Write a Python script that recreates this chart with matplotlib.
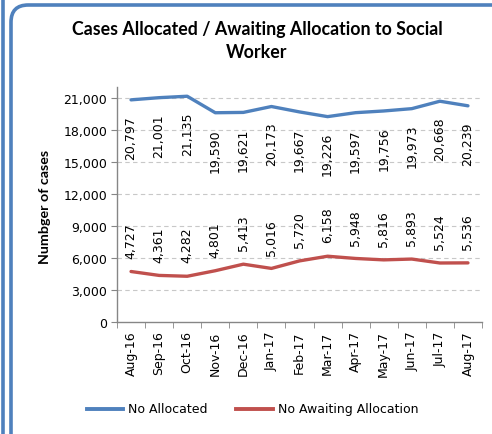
import matplotlib
matplotlib.use("Agg")
import matplotlib.pyplot as plt
from matplotlib.patches import FancyBboxPatch
from matplotlib.lines import Line2D

months = ["Aug-16", "Sep-16", "Oct-16", "Nov-16", "Dec-16", "Jan-17", "Feb-17",
          "Mar-17", "Apr-17", "May-17", "Jun-17", "Jul-17", "Aug-17"]
allocated = [20797, 21001, 21135, 19590, 19621, 20173, 19667, 19226, 19597,
             19756, 19973, 20668, 20239]
awaiting = [4727, 4361, 4282, 4801, 5413, 5016, 5720, 6158, 5948, 5816, 5893,
            5524, 5536]
yticks = [0, 3000, 6000, 9000, 12000, 15000, 18000, 21000]

plt.rcParams['font.family'] = ['DejaVu Sans']

BLUE = "#4F81BD"
RED = "#C0504D"
W, H = 492, 435
fig = plt.figure(figsize=(W / 100, H / 100), dpi=100)

# Borders
fig.add_artist(Line2D([2.5 / W, 2.5 / W], [0, 1], color=BLUE, lw=2.6,
                      transform=fig.transFigure))
box = FancyBboxPatch((11 / W, -30 / H), 520 / W, (H - 6 + 30) / H,
                     boxstyle="round,pad=0,rounding_size=0.035",
                     transform=fig.transFigure, fill=False,
                     edgecolor=BLUE, lw=2.6, mutation_aspect=W / H)
fig.add_artist(box)

ax = fig.add_axes([117 / W, 1 - 323 / H, (482 - 117) / W, (323 - 88) / H])
x = list(range(len(months)))
ax.plot(x, allocated, color=BLUE, lw=2.4, solid_capstyle='round')
ax.plot(x, awaiting, color=RED, lw=2.4, solid_capstyle='round')

for xi, v in zip(x, allocated):
    ax.annotate(f"{v:,}", (xi, v), xytext=(0, -11), textcoords="offset points",
                rotation=90, ha="center", va="top", fontsize=9, color="#000000")
for xi, v in zip(x, awaiting):
    ax.annotate(f"{v:,}", (xi, v), xytext=(0, 10), textcoords="offset points",
                rotation=90, ha="center", va="bottom", fontsize=9, color="#000000")

ax.set_xlim(-0.5, len(months) - 0.5)
ax.set_ylim(0, 22000)
ax.set_yticks(yticks)
ax.set_yticklabels([f"{t:,}" for t in yticks], fontsize=9)
ax.set_xticks(x)
ax.set_xticklabels(months, rotation=90, fontsize=9)
ax.tick_params(axis='x', length=0, pad=6)
ax.set_xticks([i - 0.5 for i in range(len(months) + 1)], minor=True)
ax.tick_params(axis='x', which='minor', length=4, color="#868686")
ax.tick_params(axis='y', length=4, color="#868686", pad=3)

for t in yticks[1:]:
    ax.axhline(t, color="#C8C8C8", lw=0.8, ls=(0, (4, 3)), zorder=0)

for s in ["top", "right"]:
    ax.spines[s].set_visible(False)
for s in ["left", "bottom"]:
    ax.spines[s].set_color("#868686")
    ax.spines[s].set_linewidth(1.0)

fig.text(45 / W, 1 - 207 / H, "Numbger of cases", rotation=90, ha="center",
         va="center", fontsize=10.3, fontweight="bold", family=["Lato"])
fig.text(257 / W, 1 - 41 / H, "Cases Allocated / Awaiting Allocation to Social\nWorker",
         ha="center", va="center", fontsize=12.8, fontweight="bold",
         linespacing=1.45, family=["Lato"])

# Legend
ly = 1 - 410 / H
fig.add_artist(Line2D([87 / W, 123 / W], [ly, ly], color=BLUE, lw=2.8,
                      transform=fig.transFigure))
fig.text(128 / W, ly, "No Allocated", ha="left", va="center", fontsize=9)
fig.add_artist(Line2D([236 / W, 273 / W], [ly, ly], color=RED, lw=2.8,
                      transform=fig.transFigure))
fig.text(278 / W, ly, "No Awaiting Allocation", ha="left", va="center", fontsize=9)

fig.savefig("out.png", dpi=100)
